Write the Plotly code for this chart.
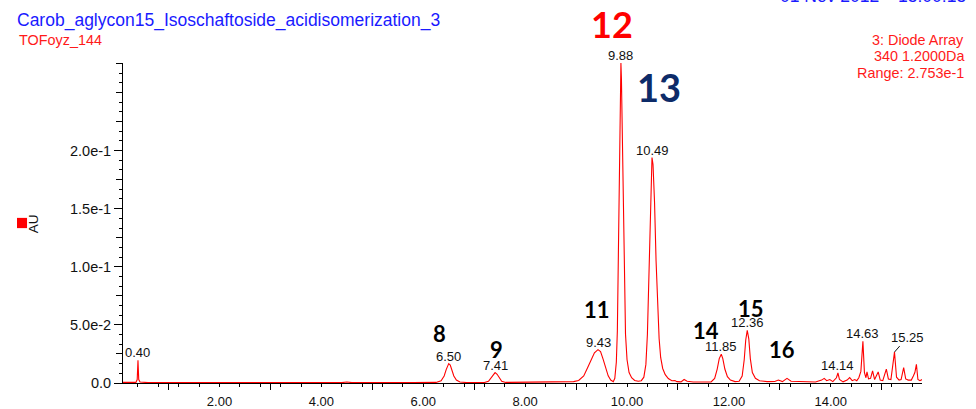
import plotly.graph_objects as go

# ---------------- data ----------------
time_min = [0.10, 0.36, 0.385, 0.40, 0.415, 0.44, 0.60, 1.50, 3.00, 4.40, 4.50, 4.60, 5.80,
            6.25, 6.35, 6.41, 6.45, 6.48, 6.50, 6.53, 6.56, 6.60, 6.65, 6.72, 6.85,
            7.20, 7.28, 7.33, 7.37, 7.41, 7.45, 7.49, 7.54, 7.62, 7.90, 8.00, 8.20, 8.50,
            8.65, 8.80, 8.95, 9.05, 9.15, 9.23, 9.30, 9.36, 9.43, 9.48, 9.53, 9.58, 9.63,
            9.68, 9.73, 9.76, 9.79, 9.81, 9.83, 9.85, 9.87, 9.88, 9.89, 9.91, 9.93, 9.95,
            9.97, 10.00, 10.04, 10.09, 10.15, 10.22, 10.28, 10.33, 10.37, 10.40, 10.43,
            10.46, 10.49, 10.51, 10.54, 10.57, 10.60, 10.63, 10.66, 10.70, 10.75, 10.81,
            10.88, 10.94, 10.98, 11.06, 11.12, 11.18, 11.30, 11.50, 11.65, 11.72, 11.77,
            11.81, 11.85, 11.88, 11.92, 11.97, 12.03, 12.12, 12.20, 12.26, 12.30, 12.33,
            12.36, 12.39, 12.42, 12.46, 12.52, 12.60, 12.75, 12.90, 12.97, 13.05, 13.14,
            13.22, 13.35, 13.42, 13.55, 13.70, 13.82, 13.87, 13.92, 13.98, 14.04, 14.11,
            14.14, 14.17, 14.24, 14.32, 14.37, 14.42, 14.47, 14.51, 14.55, 14.59, 14.63,
            14.66, 14.69, 14.71, 14.74, 14.78, 14.82, 14.86, 14.93, 14.97, 15.02, 15.06,
            15.09, 15.13, 15.18, 15.25, 15.29, 15.34, 15.38, 15.43, 15.47, 15.52, 15.58,
            15.62, 15.65, 15.68, 15.71, 15.75, 15.79]
absorbance_au = [0.0005, 0.0005, 0.003, 0.0195, 0.003, 0.0008, 0.0003, 0.0002, 0.0003, 0.0003, 0.0008, 0.0003, 0.0003,
                 0.0005, 0.002, 0.006, 0.0115, 0.0155, 0.0167, 0.0155, 0.0115, 0.006, 0.0025, 0.0008, 0.0004,
                 0.0004, 0.0015, 0.0045, 0.0075, 0.0089, 0.0075, 0.0045, 0.0015, 0.0005, 0.0006, 0.0003, 0.0004, 0.0004,
                 0.0008, 0.0006, 0.0012, 0.0022, 0.006, 0.0135, 0.021, 0.026, 0.0287, 0.027, 0.0205, 0.0125, 0.0062,
                 0.0025, 0.0012, 0.004, 0.018, 0.045, 0.10, 0.17, 0.245, 0.2753, 0.262, 0.20, 0.13, 0.075,
                 0.042, 0.020, 0.009, 0.0045, 0.0022, 0.0015, 0.002, 0.005, 0.016, 0.042, 0.095,
                 0.155, 0.194, 0.188, 0.155, 0.105, 0.065, 0.038, 0.022, 0.0125, 0.0072, 0.0038,
                 0.002, 0.0022, 0.0012, 0.0010, 0.0030, 0.0015, 0.0008, 0.0007, 0.0010, 0.004, 0.012,
                 0.021, 0.0247, 0.021, 0.012, 0.0055, 0.0025, 0.0012, 0.0015, 0.006, 0.020, 0.037,
                 0.0453, 0.038, 0.021, 0.009, 0.004, 0.002, 0.0012, 0.0013, 0.0025, 0.0012, 0.0040,
                 0.0015, 0.0012, 0.0010, 0.0012, 0.0008, 0.0025, 0.0040, 0.0020, 0.0030, 0.0012, 0.0045,
                 0.0086, 0.003, 0.0010, 0.0025, 0.0046, 0.0020, 0.0030, 0.0020, 0.0045, 0.010, 0.0358,
                 0.009, 0.0045, 0.0095, 0.0035, 0.0040, 0.0105, 0.0030, 0.0095, 0.0025, 0.0020, 0.0080,
                 0.0120, 0.0035, 0.0030, 0.0266, 0.0050, 0.0025, 0.0030, 0.0132, 0.0035, 0.0025, 0.0025,
                 0.0060, 0.0090, 0.0160, 0.0030, 0.0020, 0.0030]

peak_rt = [0.40, 6.50, 7.41, 9.43, 9.88, 10.49, 11.85, 12.36, 14.14, 14.63, 15.25]
peak_au = [0.0195, 0.0167, 0.0089, 0.0287, 0.2753, 0.194, 0.0247, 0.0453, 0.0086, 0.0358, 0.0266]

compound_ids = ["8", "9", "11", "12", "13", "14", "15", "16"]
compound_x = [6.32, 7.43, 9.42, 9.70, 10.63, 11.55, 12.43, 13.04]
compound_y = [0.0426, 0.0292, 0.0636, 0.309, 0.255, 0.0448, 0.0640, 0.0285]

x_tick_vals = [2, 4, 6, 8, 10, 12, 14]
x_tick_text = ["2.00", "4.00", "6.00", "8.00", "10.00", "12.00", "14.00"]
y_tick_vals = [0, 0.05, 0.10, 0.15, 0.20]
y_tick_text = ["0.0", "5.0e-2", "1.0e-1", "1.5e-1", "2.0e-1"]

X_RANGE = [0.106, 15.79]
Y_RANGE = [0, 0.2753]

# ---------------- figure ----------------
fig = go.Figure()
fig.add_trace(go.Scatter(x=time_min, y=absorbance_au, mode="lines",
                         line=dict(color="#ff0000", width=1.1), hoverinfo="skip",
                         showlegend=False))
# invisible copy on the overlay axes so their tick marks are drawn
fig.add_trace(go.Scatter(x=time_min, y=absorbance_au, mode="lines", xaxis="x2", yaxis="y2",
                         line=dict(color="rgba(0,0,0,0)", width=0), hoverinfo="skip",
                         showlegend=False))

ann = []
LAB_FONT = dict(family="Liberation Sans, Arial", size=13, color="#111111")
for rt, h in zip(peak_rt, peak_au):
    if abs(rt - 15.25) < 1e-6:
        ann.append(dict(x=rt, y=h, xref="x", yref="y", text=f"{rt:.2f}", showarrow=True,
                        arrowhead=0, arrowwidth=1, arrowcolor="#111111", ax=13, ay=-15,
                        standoff=0, font=LAB_FONT))
    else:
        ann.append(dict(x=rt, y=h, xref="x", yref="y", text=f"{rt:.2f}", showarrow=False,
                        xanchor="center", yanchor="bottom", yshift=-2, font=LAB_FONT))

big_sizes = {"12": 36, "13": 38}
big_colors = {"12": "#ff0000", "13": "#0d2b68"}
for cid, cx, cy in zip(compound_ids, compound_x, compound_y):
    if cy > Y_RANGE[1]:
        # above the plotting range: place in paper coordinates so it is not hidden
        px = (cx - X_RANGE[0]) / (X_RANGE[1] - X_RANGE[0])
        py = (cy - Y_RANGE[0]) / (Y_RANGE[1] - Y_RANGE[0])
        pos = dict(x=px, y=py, xref="paper", yref="paper")
    else:
        pos = dict(x=cx, y=cy, xref="x", yref="y")
    ann.append(dict(**pos, text=f"<b>{cid}</b>", showarrow=False,
                    xanchor="center", yanchor="middle",
                    font=dict(family="Lato, Carlito, sans-serif", size=big_sizes.get(cid, 22),
                              color=big_colors.get(cid, "#000000"))))

HDR = "Liberation Sans, Arial"
ann += [
    dict(x=-0.1352, y=1.133, xref="paper", yref="paper", xanchor="left", yanchor="middle",
         text="Carob_aglycon15_Isoschaftoside_acidisomerization_3", showarrow=False,
         font=dict(family=HDR, size=17.5, color="#1a1aff")),
    dict(x=-0.1327, y=1.072, xref="paper", yref="paper", xanchor="left", yanchor="middle",
         text="TOFoyz_144", showarrow=False, font=dict(family=HDR, size=14.4, color="#ff1a1a")),
    dict(x=0.8198, y=1.209, xref="paper", yref="paper", xanchor="left", yanchor="middle",
         text="01 Nov 2012", showarrow=False, font=dict(family=HDR, size=17.5, color="#1a1aff")),
    dict(x=1.0576, y=1.209, xref="paper", yref="paper", xanchor="right", yanchor="middle",
         text="15:00:15", showarrow=False, font=dict(family=HDR, size=17.5, color="#1a1aff")),
    dict(x=1.0551, y=1.072, xref="paper", yref="paper", xanchor="right", yanchor="middle",
         text="3: Diode Array", showarrow=False, font=dict(family=HDR, size=14.4, color="#ff1a1a")),
    dict(x=1.0551, y=1.022, xref="paper", yref="paper", xanchor="right", yanchor="middle",
         text="340 1.2000Da", showarrow=False, font=dict(family=HDR, size=14.4, color="#ff1a1a")),
    dict(x=1.0551, y=0.9687, xref="paper", yref="paper", xanchor="right", yanchor="middle",
         text="Range: 2.753e-1", showarrow=False, font=dict(family=HDR, size=14.4, color="#ff1a1a")),
    dict(x=-0.111, y=0.497, xref="paper", yref="paper", xanchor="center", yanchor="middle",
         text="AU", textangle=-90, showarrow=False, font=dict(family=HDR, size=13.5, color="#111111")),
]

fig.add_shape(type="rect", xref="paper", yref="paper", x0=-0.1327, x1=-0.1201, y0=0.484, y1=0.516,
              fillcolor="#ff0000", line=dict(width=0))

fig.update_layout(
    width=976, height=409,
    margin=dict(l=123, r=54, t=63, b=26, autoexpand=False),
    paper_bgcolor="white", plot_bgcolor="white",
    annotations=ann,
    xaxis=dict(range=X_RANGE, tickmode="array", tickvals=x_tick_vals, ticktext=x_tick_text,
               ticks="", showgrid=False, zeroline=False, showline=True, linecolor="#000000",
               linewidth=1, ticklabelstandoff=6, automargin=False,
               tickfont=dict(family=HDR, size=13, color="#111111")),
    xaxis2=dict(range=X_RANGE, overlaying="x", anchor="y", side="bottom", tick0=1, dtick=2,
                ticks="outside", ticklen=6, tickcolor="#000000", showticklabels=False,
                showgrid=False, zeroline=False, showline=False, automargin=False,
                minor=dict(dtick=0.4, ticks="outside", ticklen=3, tickcolor="#000000", showgrid=False)),
    yaxis=dict(range=Y_RANGE, tickmode="array", tickvals=y_tick_vals, ticktext=y_tick_text,
               ticks="outside", ticklen=8, tickcolor="#000000", showgrid=False, zeroline=False,
               showline=True, linecolor="#000000", linewidth=1, automargin=False,
               tickfont=dict(family=HDR, size=14.5, color="#111111")),
    yaxis2=dict(range=Y_RANGE, overlaying="y", anchor="x", side="left", tick0=0, dtick=0.025,
                ticks="outside", ticklen=6, tickcolor="#000000", showticklabels=False,
                showgrid=False, zeroline=False, showline=False, automargin=False,
                minor=dict(dtick=0.025 / 3, ticks="outside", ticklen=3, tickcolor="#000000", showgrid=False)),
)

fig.write_html("out.html")
